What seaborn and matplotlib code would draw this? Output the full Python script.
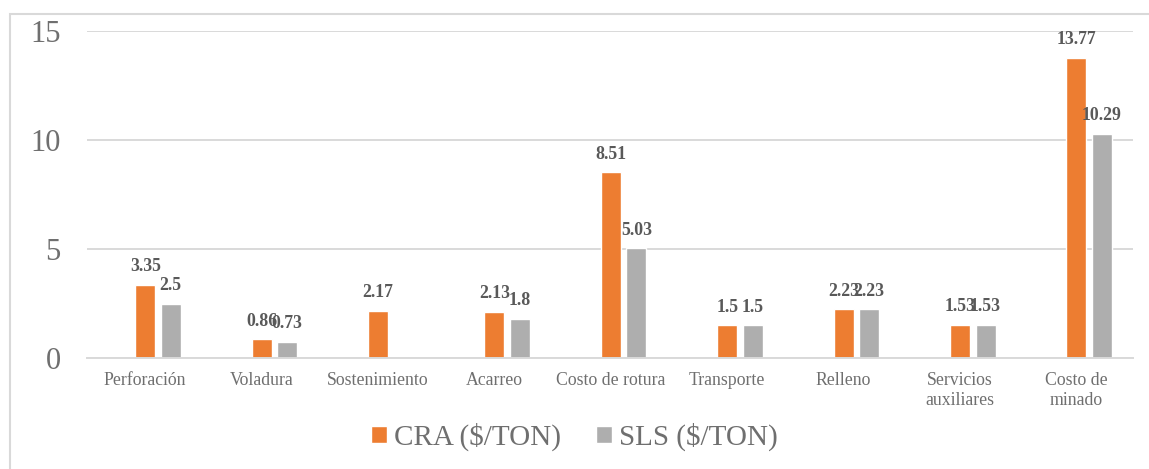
import numpy as np
import pandas as pd
import seaborn as sns
import matplotlib.pyplot as plt
from matplotlib.transforms import ScaledTranslation
from matplotlib.patches import Rectangle

categorias = ["Perforación", "Voladura", "Sostenimiento", "Acarreo",
              "Costo de rotura", "Transporte", "Relleno",
              "Servicios\nauxiliares", "Costo de\nminado"]
cra = [3.35, 0.86, 2.17, 2.13, 8.51, 1.5, 2.23, 1.53, 13.77]
sls = [2.5, 0.73, np.nan, 1.8, 5.03, 1.5, 2.23, 1.53, 10.29]
series = ["CRA ($/TON)", "SLS ($/TON)"]
y_ticks = [0, 5, 10, 15]

colores = ["#ED7D31", "#AEAEAE"]
gris_texto = "#6F6F6F"
gris_valor = "#595959"
gris_linea = "#D9D9D9"

df = pd.DataFrame({
    "categoria": categorias * 2,
    "costo": cra + sls,
    "metodo": [series[0]] * len(categorias) + [series[1]] * len(categorias),
})

sns.set_theme(style="white")
plt.rcParams["font.family"] = ["Liberation Serif", "DejaVu Serif"]

fig = plt.figure(figsize=(11.49, 4.69), dpi=100)
ax = fig.add_axes([87 / 1149, 1 - 358 / 469, (1133 - 87) / 1149, (358 - 31) / 469])

sns.barplot(data=df, x="categoria", y="costo", hue="metodo", order=categorias,
            hue_order=series, palette=colores, width=0.438, gap=0.215,
            saturation=1, ax=ax)

# value labels above each bar
for cont in ax.containers:
    ax.bar_label(cont, fmt=lambda v: f"{v:g}", padding=7, fontsize=12.8,
                 fontweight="bold", color=gris_valor)

ax.set_xlim(-0.61, 8.376)
ax.set_ylim(0, 15)
ax.set_yticks(y_ticks)
ax.set_xlabel("")
ax.set_ylabel("")
ax.yaxis.grid(True, color=gris_linea, linewidth=1.4)
ax.set_axisbelow(True)
for s in ["top", "right", "left"]:
    ax.spines[s].set_visible(False)
ax.spines["bottom"].set_color(gris_linea)
ax.spines["bottom"].set_linewidth(1.4)
ax.tick_params(axis="both", length=0)
ax.tick_params(axis="y", labelsize=22, labelcolor=gris_texto, pad=19)
ax.tick_params(axis="x", labelsize=12.8, labelcolor=gris_texto, pad=10)

shift = ScaledTranslation(-13 / 100, 0, fig.dpi_scale_trans)
for lbl in ax.get_xticklabels():
    lbl.set_transform(lbl.get_transform() + shift)
    lbl.set_linespacing(1.25)

sns.move_legend(ax, "center", bbox_to_anchor=(0.5, 1 - 437 / 469),
                bbox_transform=fig.transFigure, ncol=2, frameon=False,
                title=None, fontsize=21, handlelength=0.55, handleheight=0.55,
                handletextpad=0.25, columnspacing=1.2)
for t in ax.get_legend().get_texts():
    t.set_color(gris_texto)

# chart frame
fig.patches.append(Rectangle((10 / 1149, -0.05), 1.2, 0.05 + 1 - 14 / 469,
                             transform=fig.transFigure, fill=False,
                             edgecolor=gris_linea, linewidth=1.5))

fig.savefig("out.png", dpi=100, facecolor="white")
